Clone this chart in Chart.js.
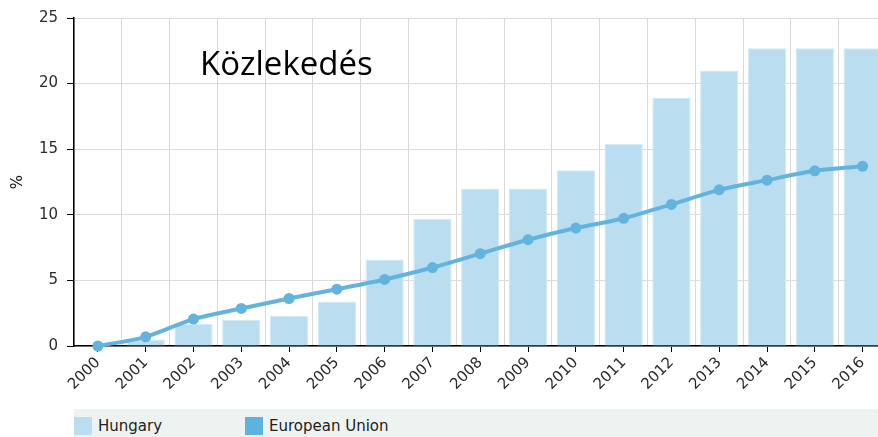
<!DOCTYPE html>
<html><head><meta charset="utf-8">
<script src="https://cdn.jsdelivr.net/npm/chart.js@4/dist/chart.umd.min.js"></script>
<style>
html,body{margin:0;padding:0;background:#fff;overflow:hidden;width:878px;height:437px;}
#wrap{position:absolute;left:0;top:0;width:892px;height:408px;}
#title{position:absolute;left:200px;top:46px;font-family:"Open Sans",sans-serif;font-size:33px;line-height:33px;color:#000;white-space:nowrap;}
#legend{position:absolute;left:74px;top:409px;width:804px;height:28px;background:#edf3f0;font-family:"DejaVu Sans",sans-serif;font-size:15px;color:#222;}
.item{position:absolute;top:8px;height:18px;line-height:18px;}
.box{position:absolute;left:0;top:0;width:18px;height:18px;}
.lbl{position:absolute;left:24px;top:0;white-space:nowrap;}
</style></head>
<body>
<div id="wrap"><canvas id="c" width="892" height="408"></canvas></div>
<div id="title">Közlekedés</div>
<div id="legend"></div>
<script>
const years = ['2000','2001','2002','2003','2004','2005','2006','2007','2008','2009','2010','2011','2012','2013','2014','2015','2016'];
const hungary = [0, 0.5, 1.7, 2.0, 2.3, 3.4, 6.6, 9.7, 12.0, 12.0, 13.4, 15.4, 18.9, 21.0, 22.7, 22.7, 22.7];
const eu = [0, 0.7, 2.05, 2.86, 3.62, 4.33, 5.07, 5.98, 7.04, 8.1, 8.99, 9.73, 10.79, 11.9, 12.64, 13.35, 13.7];
const seriesNames = ['Hungary', 'European Union'];
const yMin = 0, yMax = 25, yStep = 5;
const yTitle = '%';

const tickFont = {family: 'DejaVu Sans', size: 15};
const tickColor = '#2b2b2b';

const chart = new Chart(document.getElementById('c'), {
  data: {
    labels: years,
    datasets: [
      {type: 'bar', label: seriesNames[0], data: hungary, backgroundColor: '#badef0',
       borderColor: '#d2eaf6', borderWidth: 1, barPercentage: 0.8, categoryPercentage: 1, order: 1, xAxisID: 'x'},
      {type: 'line', label: seriesNames[1], data: eu, borderColor: '#62b4de', backgroundColor: '#62b4de',
       borderWidth: 4, pointRadius: 5.5, pointHoverRadius: 5.5, pointBackgroundColor: '#62b4de', pointBorderWidth: 0,
       tension: 0.3, order: 0, clip: false, xAxisID: 'x'}
    ]
  },
  options: {
    responsive: false, animation: false, devicePixelRatio: 1,
    layout: {padding: {top: 17, left: 0, right: 0, bottom: 0}},
    plugins: {legend: {display: false}, tooltip: {enabled: false}},
    scales: {
      x: {type: 'category', position: 'bottom', offset: true, weight: 1,
          grid: {offset: false, drawOnChartArea: false, drawTicks: true, tickLength: 6, tickColor: '#000'},
          border: {color: '#000', width: 1.5},
          ticks: {minRotation: 45, maxRotation: 45, autoSkip: false, font: tickFont, color: tickColor, padding: 2},
          afterFit: s => { s.height = 62; }},
      x2: {type: 'category', position: 'bottom', offset: true, weight: 0,
          grid: {offset: true, color: '#d9d9d9', drawTicks: false},
          border: {display: false},
          ticks: {display: false},
          afterFit: s => { s.height = 0; }},
      y: {min: yMin, max: yMax,
          ticks: {stepSize: yStep, font: tickFont, color: tickColor, padding: 9},
          grid: {color: '#dcdcdc', tickColor: '#000', tickLength: 7},
          border: {color: '#000', width: 1.5},
          title: {display: true, text: yTitle, font: {family: 'DejaVu Sans', size: 15}, color: '#111', padding: {top: 9, bottom: 0}},
          afterFit: s => { s.width = 74; }}
    }
  }
});

const legend = document.getElementById('legend');
const offsets = [0, 171];
chart.data.datasets.forEach((ds, i) => {
  const item = document.createElement('div');
  item.className = 'item';
  item.style.left = offsets[i] + 'px';
  const box = document.createElement('div');
  box.className = 'box';
  box.style.background = i === 0 ? ds.backgroundColor : '#5db3dd';
  const lbl = document.createElement('div');
  lbl.className = 'lbl';
  lbl.textContent = ds.label;
  item.appendChild(box); item.appendChild(lbl);
  legend.appendChild(item);
});
</script>
</body></html>
